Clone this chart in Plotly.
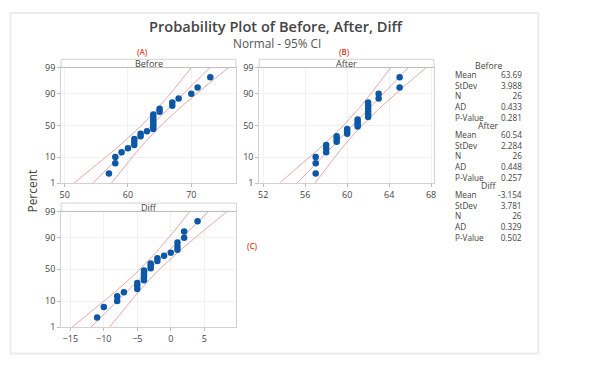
import math
from statistics import NormalDist, mean, stdev
import plotly.graph_objects as go

# ---------------- data ----------------
series_names = ["Before", "After", "Diff"]
before = [57, 58, 58, 59, 60, 61, 61, 61, 62, 62, 63, 64, 64, 64, 64, 64, 64, 64,
          65, 65, 67, 67, 68, 70, 71, 73]
after = [57, 57, 57, 58, 58, 58, 59, 59, 59, 60, 60, 60, 61, 61, 61, 61, 62, 62,
         62, 62, 62, 62, 63, 63, 65, 65]
diff = [-11, -10, -8, -8, -7, -5, -5, -5, -4, -4, -4, -4, -4, -3, -3, -3, -2, -2,
        -1, 0, 1, 1, 1, 2, 2, 4]
ad_values = ["0.433", "0.448", "0.329"]
p_values = ["0.281", "0.257", "0.502"]
panel_letters = ["(A)", "(B)", "(C)"]
x_ticks = [[50, 60, 70], [52, 56, 60, 64, 68], [-15, -10, -5, 0, 5]]
y_tick_pct = [1, 10, 50, 90, 99]
row_labels = ["Mean", "StDev", "N", "AD", "P-Value"]
title_text = "Probability Plot of Before, After, Diff"
subtitle_text = "Normal - 95% CI"

# ---------------- geometry (pixels of the 591x368 page) ----------------
OFF = 8                      # page body margin
W, H = 591 - 2 * OFF, 368 - 2 * OFF
def px(x):
    return (x - OFF) / W
def py(y):
    return 1 - (y - OFF) / H

panel_x = [[59.5, 235.5], [259, 435], [59.5, 236]]
panel_y = [[62.5, 182.8], [62.5, 182.8], [212, 332.3]]   # 99-line to bottom
strip_top = [54, 54, 203.3]
x_ranges = [[49.45, 77.05], [51.62, 68.28], [-16.37, 9.8]]

nd = NormalDist()
zlo, zhi = nd.inv_cdf(0.01), nd.inv_cdf(0.99)

blue = "#0d57a7"
ci_col = "rgba(214,110,110,0.6)"
frame_col = "#d2d2d2"
font = "Open Sans"
txt = "#444444"

fig = go.Figure()
datasets = [before, after, diff]
for k, data in enumerate(datasets):
    n = len(data)
    srt = sorted(data)
    zs = [nd.inv_cdf((i + 1 - 0.3) / (n + 0.4)) for i in range(n)]
    m, s = mean(data), stdev(data)
    zg = [zlo + (zhi - zlo) * j / 80 for j in range(81)]
    fit = [m + z * s for z in zg]
    hw = [1.96 * s * math.sqrt(1 / n + z * z / (2 * n)) for z in zg]
    suffix = "" if k == 0 else str(k + 1)
    for xs in (fit, [f - h for f, h in zip(fit, hw)], [f + h for f, h in zip(fit, hw)]):
        fig.add_trace(go.Scatter(x=xs, y=zg, mode="lines", line=dict(color=ci_col, width=1),
                                 xaxis="x" + suffix, yaxis="y" + suffix, hoverinfo="skip",
                                 showlegend=False))
    fig.add_trace(go.Scatter(x=srt, y=zs, mode="markers",
                             marker=dict(color=blue, size=6.5, line=dict(width=0)),
                             xaxis="x" + suffix, yaxis="y" + suffix, showlegend=False,
                             cliponaxis=False))

    axcommon = dict(showgrid=True, gridcolor="#f1f1f1", gridwidth=1, showline=True,
                    linecolor=frame_col, linewidth=1, mirror=True, ticks="outside",
                    ticklen=3, tickcolor="#bdbdbd", zeroline=False,
                    tickfont=dict(family=font, size=9, color=txt))
    xa = dict(axcommon, domain=[px(panel_x[k][0]), px(panel_x[k][1])], range=x_ranges[k],
              tickvals=x_ticks[k], anchor="y" + suffix)
    ya = dict(axcommon, domain=[py(panel_y[k][1]), py(panel_y[k][0])], range=[zlo - 0.005, zhi],
              tickvals=[nd.inv_cdf(p / 100) for p in y_tick_pct],
              ticktext=[str(p) for p in y_tick_pct], anchor="x" + suffix)
    fig.update_layout(**{"xaxis" + suffix: xa, "yaxis" + suffix: ya})

    # strip header
    fig.add_shape(type="rect", xref="paper", yref="paper",
                  x0=px(panel_x[k][0]), x1=px(panel_x[k][1]),
                  y0=py(panel_y[k][0]), y1=py(strip_top[k]),
                  line=dict(color=frame_col, width=1), fillcolor="white", layer="above")
    fig.add_shape(type="line", xref="paper", yref="paper",
                  x0=px(panel_x[k][0]), x1=px(panel_x[k][1]),
                  y0=py(panel_y[k][0]), y1=py(panel_y[k][0]),
                  line=dict(color="#bdbdbd", width=1), layer="above")
    fig.add_annotation(xref="paper", yref="paper",
                       x=px((panel_x[k][0] + panel_x[k][1]) / 2),
                       y=py((strip_top[k] + panel_y[k][0]) / 2),
                       text=series_names[k], showarrow=False,
                       font=dict(family=font, size=9, color=txt),
                       xanchor="center", yanchor="middle")

# panel letters
letter_pos = [(141.3, 45.7), (344.7, 45.7), (251.9, 247.3)]
for t, (x, y) in zip(panel_letters, letter_pos):
    fig.add_annotation(xref="paper", yref="paper", x=px(x), y=py(y), text=t, showarrow=False,
                       font=dict(family=font, size=8, color="#e8402e", weight=600),
                       xanchor="center", yanchor="middle")

# title and subtitle
fig.add_annotation(xref="paper", yref="paper", x=px(276), y=py(19),
                   text=title_text, showarrow=False,
                   font=dict(family=font, size=14.6, color="#454545", weight=600),
                   xanchor="center", yanchor="middle", borderpad=0)
fig.add_annotation(xref="paper", yref="paper", x=px(276.5), y=py(37.2),
                   text=subtitle_text, showarrow=False,
                   font=dict(family=font, size=11.8, color="#555555"),
                   xanchor="center", yanchor="middle", borderpad=0)
fig.add_annotation(xref="paper", yref="paper", x=px(30.5), y=py(191),
                   text="Percent", textangle=-90, showarrow=False,
                   font=dict(family=font, size=12, color=txt),
                   xanchor="center", yanchor="middle")

# stats table
header_y = [60.5, 123.2, 185.2]
for k, data in enumerate(datasets):
    vals = [f"{mean(data):.4g}", f"{stdev(data):.4g}", str(len(data)), ad_values[k], p_values[k]]
    fig.add_annotation(xref="paper", yref="paper", x=px(490), y=py(header_y[k]),
                       text=series_names[k], showarrow=False,
                       font=dict(family=font, size=8.8, color=txt),
                       xanchor="center", yanchor="middle")
    yc = header_y[k] + 11.2 + 20
    fig.add_annotation(xref="paper", yref="paper", x=px(455.5), y=py(yc),
                       text="<br>".join(row_labels), align="left", showarrow=False,
                       font=dict(family=font, size=8.2, color=txt),
                       xanchor="left", yanchor="middle", borderpad=0)
    fig.add_annotation(xref="paper", yref="paper", x=px(525), y=py(yc),
                       text="<br>".join(vals), align="right", showarrow=False,
                       font=dict(family=font, size=8.2, color=txt),
                       xanchor="right", yanchor="middle", borderpad=0)

# outer border
fig.add_shape(type="rect", xref="paper", yref="paper", x0=px(8.5), x1=px(540),
              y0=py(359.5), y1=py(6), line=dict(color="#ececec", width=2), layer="below")

fig.update_layout(width=W, height=H, margin=dict(l=0, r=0, t=0, b=0),
                  paper_bgcolor="white", plot_bgcolor="white", showlegend=False)
fig.write_html("out.html")
